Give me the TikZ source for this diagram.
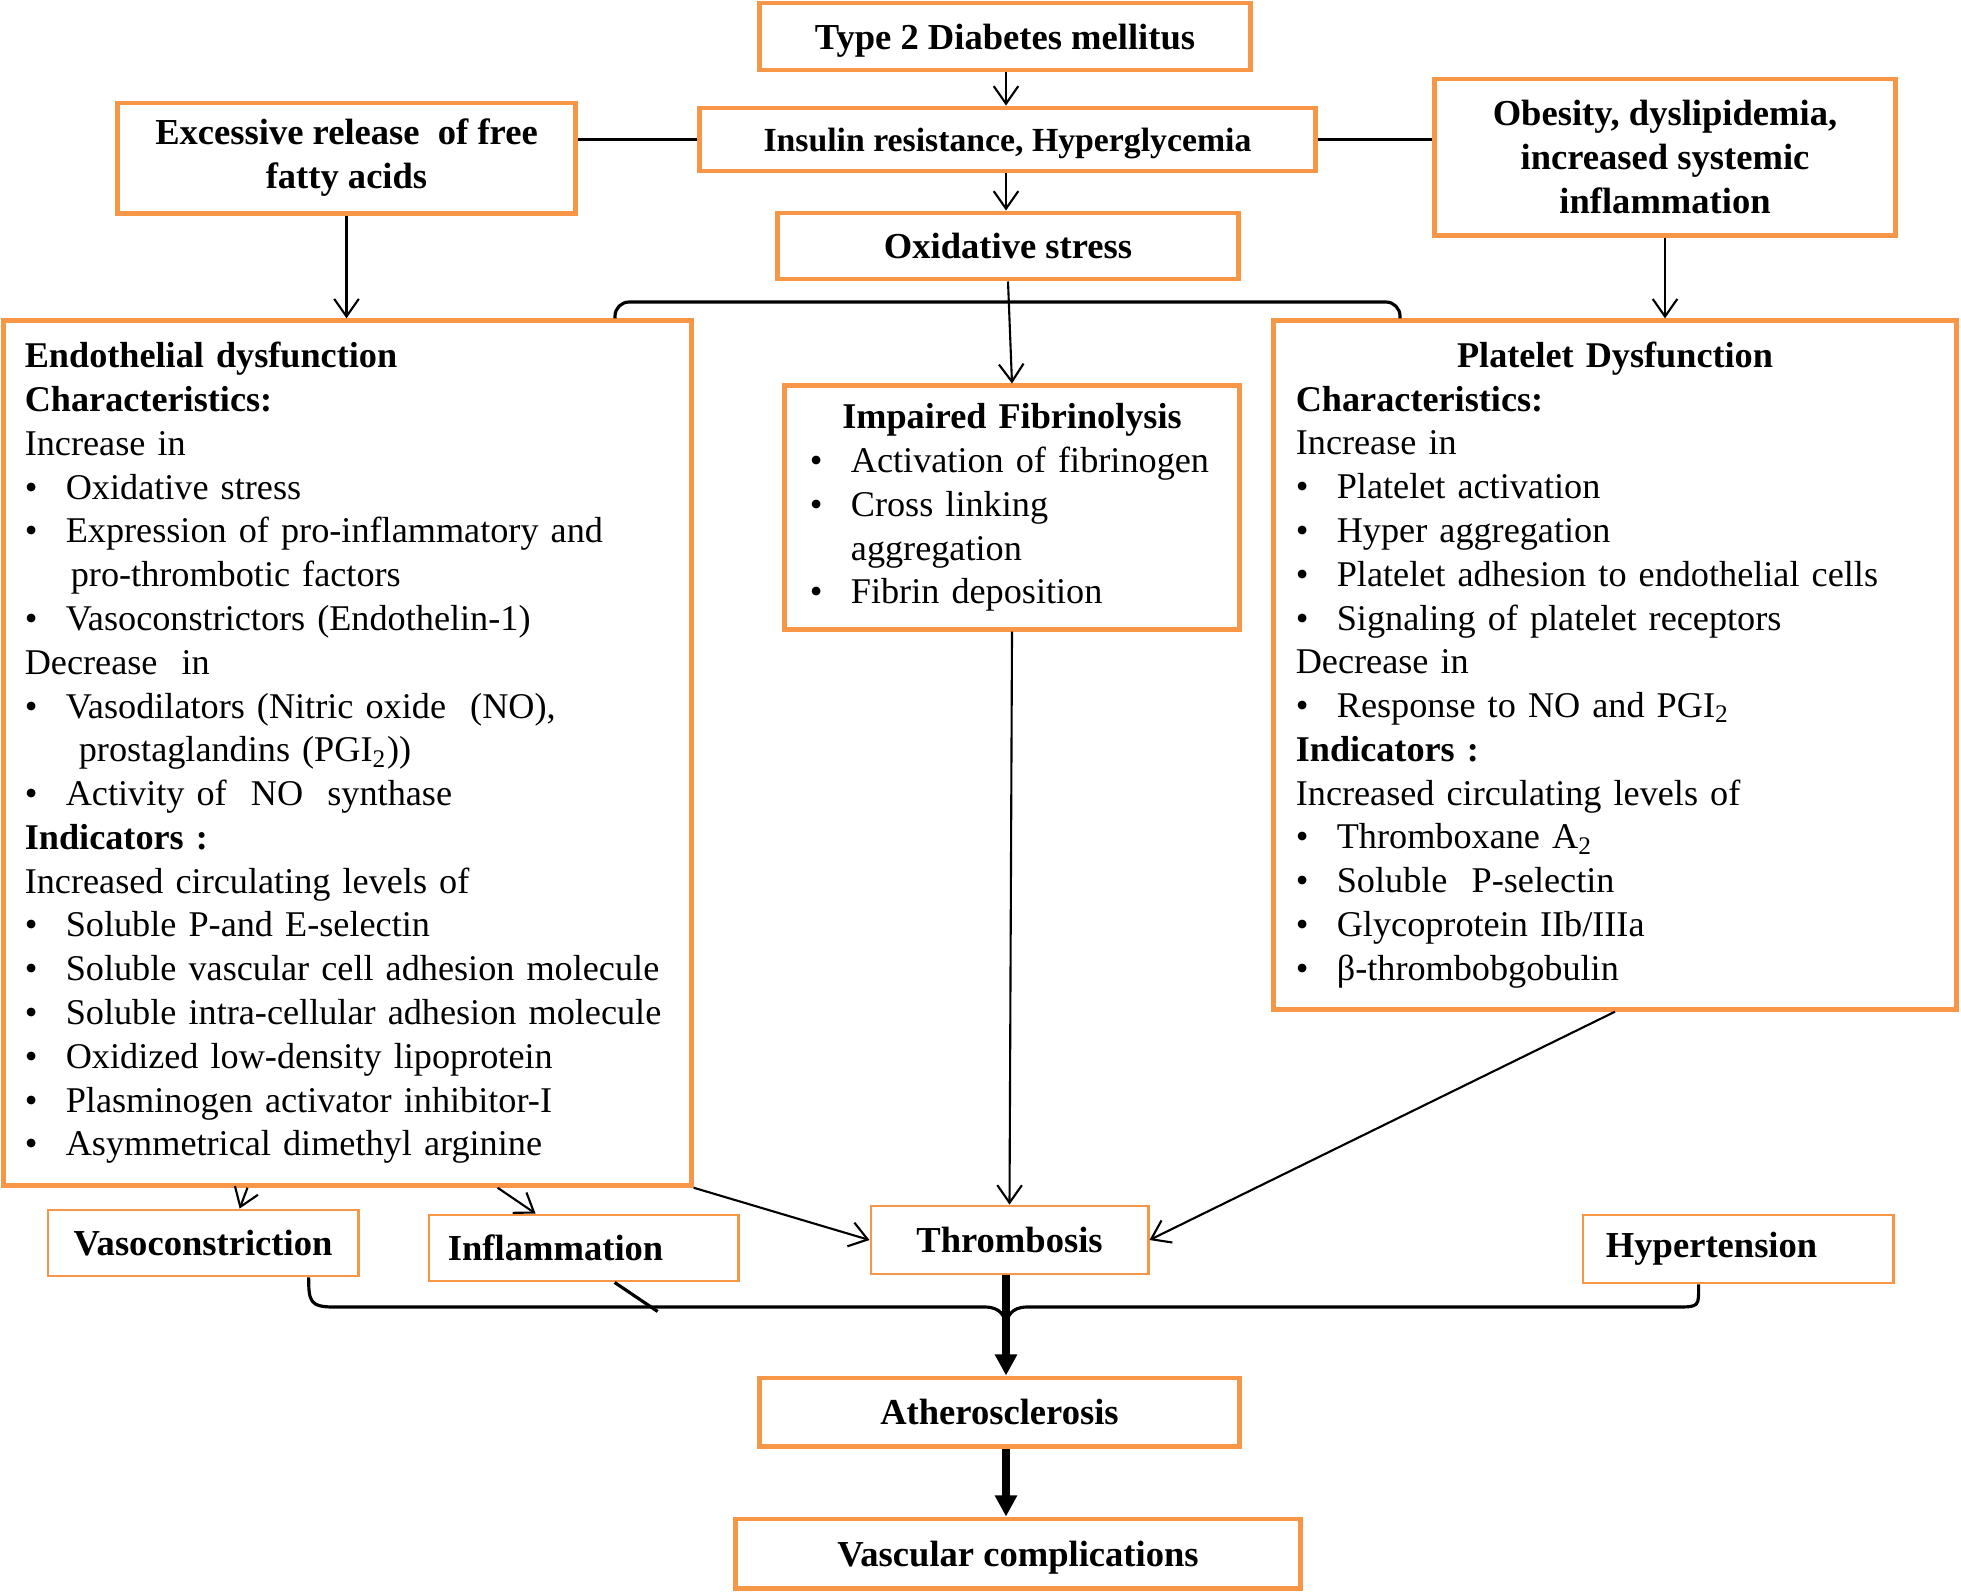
\documentclass[tikz,border=0pt]{standalone}
\usepackage{fontspec}
\setmainfont{Liberation Serif}
\usetikzlibrary{arrows.meta}
\definecolor{boxorange}{RGB}{247,150,70}
\newcommand{\blt}[1]{\mbox{\makebox[0.41cm][l]{\textbullet}#1}}

\begin{document}
\begin{tikzpicture}[x=0.01cm, y=-0.01cm, >={Straight Barb[length=5pt,width=7pt]},
  orangebox/.style={draw=boxorange, line width=1.4pt, align=center, inner sep=0pt,
    font=\fontsize{10.4}{12.5}\selectfont\bfseries},
  thinbox/.style={orangebox, line width=0.8pt},
  listbox/.style={draw=boxorange, line width=1.4pt, align=left, inner ysep=0pt,
    font=\fontsize{10.3}{12.45}\selectfont},
  link/.style={line width=0.6pt},
  brace/.style={line width=0.9pt},
  fat/.style={line width=2.4pt, -{Triangle[length=6pt,width=6pt]}}]
\path[use as bounding box, fill=white] (0,0) rectangle (1961,1593);
\coordinate (spine) at (1006,0);
% top row
\node[orangebox, minimum width=4.9cm, minimum height=0.67cm, text depth=0pt] (t2d) at (1005,36.5) {Type 2 Diabetes mellitus};
\node[orangebox, minimum width=6.15cm, minimum height=0.63cm, text depth=0pt, font=\fontsize{9.6}{11.5}\selectfont\bfseries] (insulin) at (1007.5,139.5) {Insulin resistance, Hyperglycemia};
\node[orangebox, minimum width=4.57cm, minimum height=1.1cm] (ffa) at (346.5,158) {Excessive release\ \ of free\\fatty acids};
\node[orangebox, minimum width=4.6cm, minimum height=1.56cm] (obes) at (1665,157) {Obesity, dyslipidemia,\\increased systemic\\inflammation};
\node[orangebox, minimum width=4.6cm, minimum height=0.66cm] (oxid) at (1008,246) {Oxidative stress};
% middle row
\node[listbox, text width=6.45cm, inner xsep=0.21cm, minimum height=8.64cm] (endo) at (347.5,753) {%
\textbf{Endothelial dysfunction}\\
\textbf{Characteristics:}\\
Increase in\\
\blt{Oxidative stress}\\
\blt{Expression of pro-inflammatory and}\\
\hspace*{0.46cm}pro-thrombotic factors\\
\blt{Vasoconstrictors (Endothelin-1)}\\
Decrease\ \ in\\
\blt{Vasodilators (Nitric oxide\ \ (NO),}\\
\hspace*{0.54cm}prostaglandins (PGI\textsubscript{2}))\\
\blt{Activity of\ \ NO\ \ synthase}\\
\textbf{Indicators :}\\
Increased circulating levels of\\
\blt{Soluble P-and E-selectin}\\
\blt{Soluble vascular cell adhesion molecule}\\
\blt{Soluble intra-cellular adhesion molecule}\\
\blt{Oxidized low-density lipoprotein}\\
\blt{Plasminogen activator inhibitor-I}\\
\blt{Asymmetrical dimethyl arginine}};
\node[listbox, text width=4.04cm, inner xsep=0.25cm, minimum height=2.43cm] (fibr) at (1012,507.5) {%
\makebox[4.04cm]{\textbf{Impaired Fibrinolysis}}\\
\blt{Activation of fibrinogen}\\
\blt{Cross linking}\\
\hspace*{0.41cm}aggregation\\
\blt{Fibrin deposition}};
\node[listbox, text width=6.38cm, inner xsep=0.22cm, minimum height=6.88cm] (plat) at (1615,665) {%
\makebox[6.38cm]{\textbf{Platelet Dysfunction}}\\
\textbf{Characteristics:}\\
Increase in\\
\blt{Platelet activation}\\
\blt{Hyper aggregation}\\
\blt{Platelet adhesion to endothelial cells}\\
\blt{Signaling of platelet receptors}\\
Decrease in\\
\blt{Response to NO and PGI\textsubscript{2}}\\
\textbf{Indicators :}\\
Increased circulating levels of\\
\blt{Thromboxane A\textsubscript{2}}\\
\blt{Soluble\ \ P-selectin}\\
\blt{Glycoprotein IIb/IIIa}\\
\blt{β-thrombobgobulin}};
% bottom row
\node[thinbox, minimum width=3.1cm, minimum height=0.66cm] (vaso) at (203,1243) {Vasoconstriction};
\node[thinbox, text width=2.71cm, inner xsep=0.19cm, align=left, minimum height=0.66cm] (infl) at (583.5,1248) {Inflammation};
\node[thinbox, minimum width=2.77cm, minimum height=0.68cm] (thromb) at (1009.5,1240) {Thrombosis};
\node[thinbox, text width=2.64cm, inner xsep=0.23cm, align=left, minimum height=0.68cm] (hyper) at (1738,1249) {Hypertension};
\node[orangebox, minimum width=4.79cm, minimum height=0.68cm] (athero) at (999.5,1412) {Atherosclerosis};
\node[orangebox, minimum width=5.64cm, minimum height=0.69cm, text depth=0pt] (vasc) at (1018,1553.5) {Vascular complications};
% connectors
\draw[link,->] (t2d.south -| spine) -- (insulin.north -| spine);
\draw[link,->] (insulin.south -| spine) -- (oxid.north -| spine);
\draw[link] (insulin.west) -- (insulin.west -| ffa.east);
\draw[link] (insulin.east) -- (insulin.east -| obes.west);
\draw[link,->] (ffa.south) -- (ffa.south |- endo.north);
\draw[link,->] (obes.south) -- (obes.south |- plat.north);
\coordinate (bl) at (615,302);
\coordinate (br) at (1400,302);
\draw[brace, rounded corners=4pt] (bl |- endo.north) -- (bl) -- (br) -- (br |- plat.north);
\draw[link,->] (oxid.south) -- (fibr.north);
\draw[link,->] (fibr.south) -- (thromb.north);
\draw[link,->] (plat.south) -- (thromb.east);
\draw[link,->] (endo.south east) -- (thromb.west);
\draw[link,->] ([xshift=2.46cm]endo.south west) -- ([xshift=1.93cm]vaso.north west);
\draw[link,->] ([xshift=4.96cm]endo.south west) -- ([xshift=1.08cm]infl.north west);
% brace under the bottom row
\coordinate (vasoend) at ([xshift=2.62cm]vaso.south west);
\coordinate (hypend) at ([xshift=1.17cm]hyper.south west);
\coordinate (tip) at (1006,1328);
\draw[brace] (vasoend) .. controls +(0,24) and +(-24,0) .. (334,1307) -- (985,1307)
  .. controls +(15,0) and +(0,-12) .. (tip) .. controls +(0,-12) and +(-15,0) .. (1027,1307)
  -- (1676,1307) .. controls +(24,0) and +(0,22) .. (hypend);
\draw[brace] ([xshift=1.87cm]infl.south west) -- ++(43,29);
\draw[fat] (thromb.south -| spine) -- (athero.north -| spine);
\draw[fat] (athero.south -| spine) -- (vasc.north -| spine);
\end{tikzpicture}
\end{document}
